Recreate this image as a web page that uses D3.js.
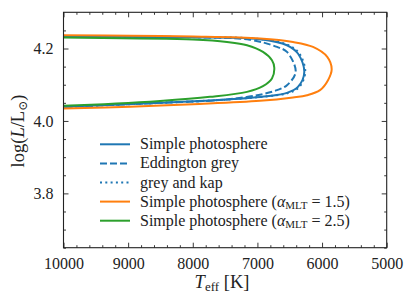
<!DOCTYPE html>
<html>
<head>
<meta charset="utf-8">
<script src="https://cdn.jsdelivr.net/npm/d3@7"></script>
<style>
  body { margin: 0; background: #fff; }
  text { font-family: "Liberation Serif", "DejaVu Serif", serif; fill: #222; }
</style>
</head>
<body>
<div class="chart"></div>
<script>
const margin = { top: 12.3, left: 63.5, right: 29.3, bottom: 57.3 };
const width = 416 - margin.left - margin.right;
const height = 305 - margin.top - margin.bottom;

// tick values
const xTicks = [10000, 9000, 8000, 7000, 6000, 5000];
const yTicks = [3.8, 4.0, 4.2];

// series: [Teff, logL] along each track
const simplePhot = [
  [10300, 4.2335], [10000, 4.2331], [7997, 4.2312], [6960, 4.2257], [6543, 4.2091],
  [6373, 4.1862], [6275, 4.1354], [6373, 4.0941], [6543, 4.0775], [6852, 4.0684],
  [7471, 4.0593], [8507, 4.0500], [10000, 4.0389], [10300, 4.0370]
];
const eddington = [
  [10300, 4.2335], [10000, 4.2331], [7997, 4.2312], [7115, 4.2243], [6697, 4.2044],
  [6543, 4.1906], [6408, 4.1354], [6543, 4.0988], [6697, 4.0850], [6960, 4.0726],
  [7471, 4.0593], [8507, 4.0500], [10000, 4.0389], [10300, 4.0370]
];
const greyKap = [
  [10300, 4.2335], [10000, 4.2331], [7997, 4.2312], [6960, 4.2262], [6530, 4.2100],
  [6355, 4.1870], [6260, 4.1354], [6355, 4.0935], [6530, 4.0770], [6852, 4.0680],
  [7471, 4.0590], [8507, 4.0498], [10000, 4.0389], [10300, 4.0370]
];
const alpha15 = [
  [10300, 4.2370], [10000, 4.2367], [8971, 4.2350], [7997, 4.2330], [6960, 4.2276],
  [6450, 4.2180], [6140, 4.2044], [5920, 4.1770], [5851, 4.1430], [5908, 4.1125],
  [6032, 4.0850], [6233, 4.0712], [6450, 4.0650], [6960, 4.0555], [7997, 4.0463],
  [8971, 4.0394], [10000, 4.0345], [10300, 4.0330]
];
const alpha25 = [
  [10300, 4.2307], [10000, 4.2303], [7997, 4.2248], [7471, 4.2182], [7161, 4.2091],
  [6914, 4.1906], [6775, 4.1677], [6739, 4.1470], [6775, 4.1172], [6914, 4.0960],
  [7161, 4.0803], [7734, 4.0665], [8507, 4.0554], [10000, 4.0417], [10300, 4.0400]
];

const series = [
  { name: "Simple photosphere", data: simplePhot, color: "#1f77b4", dash: null },
  { name: "Eddington grey", data: eddington, color: "#1f77b4", dash: "7,3" },
  { name: "grey and kap", data: greyKap, color: "#1f77b4", dash: "2,3.3" },
  { name: "Simple photosphere", alpha: "1.5", data: alpha15, color: "#ff7f0e", dash: null },
  { name: "Simple photosphere", alpha: "2.5", data: alpha25, color: "#2ca02c", dash: null }
];

const serif = '"Liberation Serif", "DejaVu Serif", serif';

const svgRoot = d3.select(".chart").append("svg")
  .attr("width", 416).attr("height", 305);

const svg = svgRoot.append("g")
  .attr("transform", `translate(${margin.left}, ${margin.top})`);

const xScale = d3.scaleLinear().domain([10000, 5000]).range([0, width]);
const yScale = d3.scaleLinear().domain([3.65, 4.3]).range([height, 0]);

svg.append("clipPath").attr("id", "clip")
  .append("rect").attr("width", width).attr("height", height);

const line = d3.line()
  .x(d => xScale(d[0]))
  .y(d => yScale(d[1]))
  .curve(d3.curveCatmullRom.alpha(0.5));

svg.append("g").attr("clip-path", "url(#clip)")
  .selectAll("path")
  .data(series)
  .join("path")
  .attr("fill", "none")
  .attr("stroke", d => d.color)
  .attr("stroke-width", 2)
  .attr("stroke-dasharray", d => d.dash)
  .attr("d", d => line(d.data));

// minor tick values
const xMinor = d3.range(5000, 10001, 200).filter(v => v % 1000 !== 0);
const yMinor = d3.range(3.65, 4.3, 0.05).map(v => +v.toFixed(2)).filter(v => !yTicks.includes(v));

function tickStyle(g) {
  g.attr("font-family", null);
  g.select(".domain").remove();
  g.selectAll("line").attr("stroke", "#222").attr("stroke-width", 0.9);
  g.selectAll("text")
    .style("font-family", serif)
    .style("font-size", "16px")
    .attr("fill", "#222");
}

// bottom
svg.append("g").attr("transform", `translate(0,${height})`)
  .call(d3.axisBottom(xScale).tickValues(xTicks).tickFormat(d3.format("d")).tickSizeInner(-5).tickPadding(10))
  .call(tickStyle);
svg.append("g").attr("transform", `translate(0,${height})`)
  .call(d3.axisBottom(xScale).tickValues(xMinor).tickFormat("").tickSizeInner(-2.5))
  .call(tickStyle);
// top
svg.append("g")
  .call(d3.axisTop(xScale).tickValues(xTicks).tickFormat("").tickSizeInner(-5))
  .call(tickStyle);
svg.append("g")
  .call(d3.axisTop(xScale).tickValues(xMinor).tickFormat("").tickSizeInner(-2.5))
  .call(tickStyle);
// left
svg.append("g")
  .call(d3.axisLeft(yScale).tickValues(yTicks).tickFormat(d3.format(".1f")).tickSizeInner(-5).tickPadding(10))
  .call(tickStyle);
svg.append("g")
  .call(d3.axisLeft(yScale).tickValues(yMinor).tickFormat("").tickSizeInner(-2.5))
  .call(tickStyle);
// right
svg.append("g").attr("transform", `translate(${width},0)`)
  .call(d3.axisRight(yScale).tickValues(yTicks).tickFormat("").tickSizeInner(-5))
  .call(tickStyle);
svg.append("g").attr("transform", `translate(${width},0)`)
  .call(d3.axisRight(yScale).tickValues(yMinor).tickFormat("").tickSizeInner(-2.5))
  .call(tickStyle);

svg.append("rect")
  .attr("width", width).attr("height", height)
  .attr("fill", "none").attr("stroke", "#222").attr("stroke-width", 1.1);

// axis titles
const xt = svgRoot.append("text")
  .attr("x", 222).attr("y", 288)
  .attr("text-anchor", "middle")
  .attr("font-size", "18.5px");
xt.append("tspan").attr("font-style", "italic").text("T");
xt.append("tspan").attr("font-size", "13px").attr("dy", 3).text("eff");
xt.append("tspan").attr("dy", -3).text(" [K]");

const yt = svgRoot.append("text")
  .attr("transform", "translate(24,131) rotate(-90)")
  .attr("text-anchor", "middle")
  .attr("font-size", "18.5px");
yt.append("tspan").text("log(");
yt.append("tspan").attr("font-style", "italic").text("L");
yt.append("tspan").text("/L");
yt.append("tspan").attr("font-size", "12px").attr("dy", 3).text("\u2299");
yt.append("tspan").attr("dy", -3).text(")");

// legend
const legend = svgRoot.append("g");
const rows = legend.selectAll("g")
  .data(series)
  .join("g")
  .attr("transform", (d, i) => `translate(100,${144.3 + i * 19.1})`);

rows.append("line")
  .attr("x1", 0).attr("x2", 30)
  .attr("stroke", d => d.color)
  .attr("stroke-width", 2)
  .attr("stroke-dasharray", d => d.dash);

rows.each(function(d) {
  const t = d3.select(this).append("text")
    .attr("x", 40).attr("y", 5)
    .attr("font-size", "16px");
  t.append("tspan").text(d.name);
  if (d.alpha) {
    t.append("tspan").text(" (");
    t.append("tspan").attr("font-style", "italic").text("\u03b1");
    t.append("tspan").attr("font-size", "11px").attr("dy", 2.5).text("MLT");
    t.append("tspan").attr("dy", -2.5).text(" = " + d.alpha + ")");
  }
});
</script>
</body>
</html>
